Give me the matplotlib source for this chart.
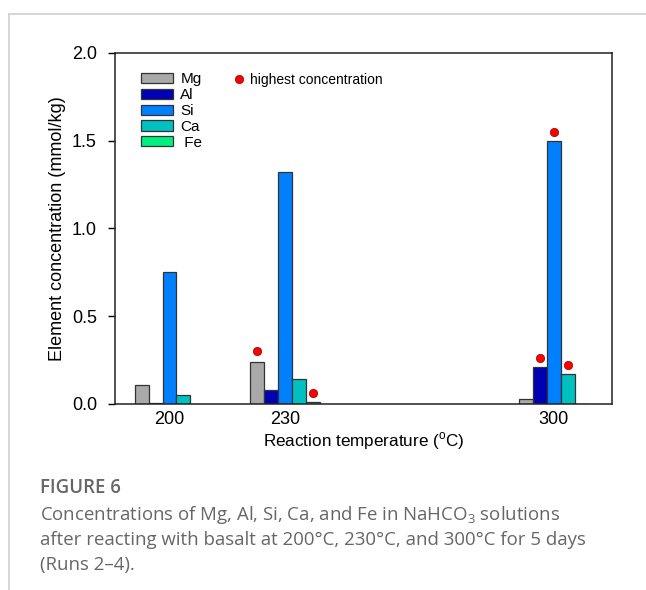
import matplotlib
matplotlib.use('Agg')
import matplotlib.pyplot as pl
import numpy as np
from matplotlib.patches import Patch
from matplotlib.lines import Line2D

# data
temps = [200, 230, 300]
elements = ['Mg', 'Al', 'Si', 'Ca', ' Fe']
mg = [0.11, 0.24, 0.03]
al = [0.003, 0.08, 0.21]
si = [0.75, 1.32, 1.50]
ca = [0.05, 0.14, 0.17]
fe = [0.002, 0.01, 0.0]
values = [mg, al, si, ca, fe]
colors = ['#a9a9a9', '#0000b4', '#0080ff', '#00c0c0', '#00f080']

# highest concentration markers (temperature, element index, y)
hi_temp = [230, 230, 300, 300, 300]
hi_elem = [0, 4, 1, 2, 3]
hi_val = [0.30, 0.06, 0.26, 1.55, 0.22]


def main():
    pl.rcParams['font.family'] = ['Liberation Sans', 'DejaVu Sans']
    fig = pl.figure(figsize=(6.46, 5.90), dpi=100)
    ax = fig.add_axes([0.178, 0.3153, 0.769, 0.595])

    width = 3.62
    offsets = np.arange(len(elements)) - 2
    x = np.array(temps, dtype=float)
    for off, vals, col in zip(offsets, values, colors):
        ax.bar(x + off * width, vals, width=width, color=col,
               edgecolor='#333333', linewidth=0.9, zorder=2)

    hx = np.array(hi_temp, dtype=float) + offsets[hi_elem] * width
    ax.plot(hx, hi_val, linestyle='none', marker='o', markersize=6,
            markerfacecolor='#ff0000', markeredgecolor='#990000',
            markeredgewidth=0.5, zorder=3)

    ax.set_xlim(185.8, 315.1)
    ax.set_ylim(0, 2.0)
    ax.set_xticks(temps)
    ax.set_yticks([0, 0.5, 1.0, 1.5, 2.0])
    ax.set_yticklabels(['0.0', '0.5', '1.0', '1.5', '2.0'])
    ax.tick_params(axis='x', length=0, labelsize=13, pad=5)
    ax.tick_params(axis='y', direction='out', length=5, width=1,
                   labelsize=13, pad=8)
    for sp in ax.spines.values():
        sp.set_linewidth(1.1)
        sp.set_color('#222222')

    ax.set_xlabel('Reaction temperature ($^\\mathregular{o}$C)', fontsize=12.3,
                  labelpad=2)
    ax.set_ylabel('Element concentration (mmol/kg)', fontsize=13, labelpad=4)

    handles = [Patch(facecolor=c, edgecolor='#333333', linewidth=0.9)
               for c in colors]
    leg1 = ax.legend(handles, elements, loc='upper left',
                     bbox_to_anchor=(0.03, 0.975), frameon=False,
                     fontsize=11, handlelength=2.1, handleheight=0.65,
                     labelspacing=0.12, handletextpad=0.5, borderpad=0.2)
    ax.add_artist(leg1)
    dot = Line2D([], [], linestyle='none', marker='o', markersize=6,
                 markerfacecolor='#ff0000', markeredgecolor='#990000',
                 markeredgewidth=0.5)
    ax.legend([dot], ['highest concentration'], loc='upper left',
              bbox_to_anchor=(0.218, 0.97), frameon=False, fontsize=10,
              handlelength=0.8, handletextpad=0.4, borderpad=0.2)

    # page frame
    fig.add_artist(Line2D([9 / 646, 1], [1 - 14 / 590] * 2,
                          transform=fig.transFigure, color='#d0d0d0', lw=1.2))
    fig.add_artist(Line2D([9 / 646] * 2, [0, 1 - 14 / 590],
                          transform=fig.transFigure, color='#d0d0d0', lw=1.2))

    # caption
    cap = dict(family=['Open Sans', 'DejaVu Sans'], color='#666666',
               fontsize=13.4, va='center', ha='left')
    fig.text(40 / 646, 1 - 488 / 590, 'FIGURE 6', fontweight='semibold', **cap)
    fig.text(40 / 646, 1 - 515 / 590,
             'Concentrations of Mg, Al, Si, Ca, and Fe in NaHCO$_\\mathregular{3}$ solutions', **cap)
    fig.text(40 / 646, 1 - 540 / 590,
             'after reacting with basalt at 200°C, 230°C, and 300°C for 5 days', **cap)
    fig.text(40 / 646, 1 - 565 / 590, '(Runs 2–4).', **cap)

    fig.savefig('out.png', dpi=100)


if __name__ == "__main__":
    main()
